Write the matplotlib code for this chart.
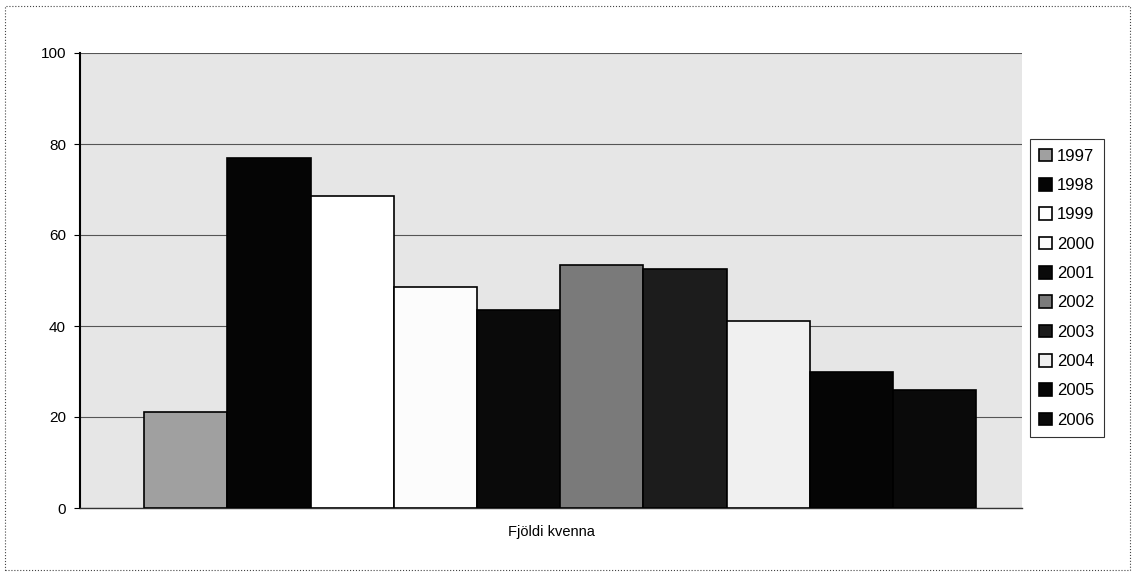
import numpy as np
import matplotlib.pyplot as plt
from matplotlib.patches import Rectangle

## Data
years = ['1997', '1998', '1999', '2000', '2001', '2002', '2003', '2004', '2005', '2006']
values = [21, 77, 68.5, 48.5, 43.5, 53.5, 52.5, 41, 30, 26]
bar_colors = ['#a0a0a0', '#050505', '#ffffff', '#fcfcfc', '#0a0a0a',
              '#7a7a7a', '#1c1c1c', '#f0f0f0', '#050505', '#0a0a0a']
yticks = [0, 20, 40, 60, 80, 100]
xlabel = 'Fjöldi kvenna'

plt.rcParams['font.family'] = ['Liberation Sans', 'DejaVu Sans']

## Figure
fig = plt.figure(figsize=(11.35, 5.76), dpi=100)
ax = fig.add_axes([80 / 1135, 1 - 508 / 576, 942 / 1135, 455 / 576])
ax.set_facecolor('#e6e6e6')

x = np.arange(len(years))
bars = ax.bar(x, values, width=1.0, color=bar_colors, edgecolor='black', linewidth=1.2,
              label=years, zorder=3)

ax.set_ylim(0, 100)
ax.set_xlim(-1.27, 10.05)
ax.set_yticks(yticks)
ax.set_yticklabels([str(t) for t in yticks], fontsize=11)
ax.set_xticks([])
ax.yaxis.grid(True, color='#555555', linewidth=0.8, zorder=0)
ax.set_axisbelow(True)
ax.tick_params(axis='y', length=4, width=0.8, direction='out', pad=6)
for side in ['top', 'right']:
    ax.spines[side].set_visible(False)
ax.spines['left'].set_linewidth(1.5)
ax.spines['bottom'].set_linewidth(1.0)
ax.spines['bottom'].set_color('#333333')
ax.set_xlabel(xlabel, fontsize=10.5, labelpad=12)

# Legend on the right
leg = ax.legend(handles=list(bars), labels=years, loc='upper left',
                bbox_to_anchor=(1.008, 0.81), frameon=True, fancybox=False,
                edgecolor='black', fontsize=12, handlelength=0.8, handleheight=0.8,
                handletextpad=0.3, labelspacing=0.85, borderpad=0.55, borderaxespad=0)
leg.get_frame().set_linewidth(0.8)

# Outer border of the chart area
fig.patches.append(Rectangle((0.004, 0.01), 0.992, 0.98, transform=fig.transFigure,
                             fill=False, edgecolor='#444444', linewidth=0.8, linestyle=':'))

fig.savefig('out.png', dpi=100)
